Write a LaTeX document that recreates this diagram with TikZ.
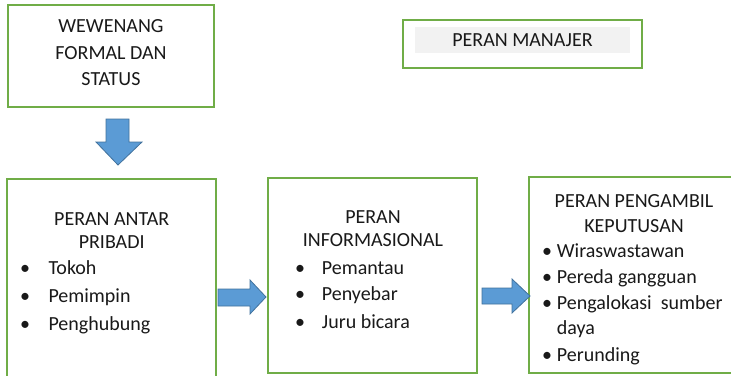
\documentclass[tikz,border=0pt]{standalone}
\usepackage{fontspec}
\setmainfont{Carlito}
\definecolor{boxgreen}{HTML}{70AD47}
\definecolor{arrowfill}{HTML}{5B9BD5}
\definecolor{arrowline}{HTML}{41719C}
\definecolor{bandgrey}{HTML}{F2F2F2}
\begin{document}
\begin{tikzpicture}[x=1pt,y=-1pt,
  box/.style={draw=boxgreen,line width=1.8pt,fill=white,inner sep=0pt,outer sep=0pt},
  band/.style={fill=bandgrey,inner sep=0pt,outer sep=0pt},
  label/.style={inner sep=0pt,anchor=base,font=\fontsize{20}{24}\selectfont,text=black!90},
  item/.style={inner sep=0pt,anchor=base west,font=\fontsize{20}{24}\selectfont,text=black!90},
  dot/.style={inner sep=0pt,anchor=base,font=\fontsize{20}{24}\selectfont,text=black!90},
  blockarrow/.style={fill=arrowfill,draw=arrowline,line width=0.8pt,line join=miter}]
\useasboundingbox (0,0) rectangle (731,375);
\clip (0,0) rectangle (731,375);

% boxes
\node[box,minimum width=206,minimum height=102] (formal) at (111,56) {};
\node[box,minimum width=239,minimum height=48] (manajer) at (522.5,44) {};
\node[band,minimum width=215,minimum height=26] (manband) at (522.5,40) {};
\node[box,minimum width=209,minimum height=221] (antar) at (111.5,289.5) {};
\node[box,minimum width=209,minimum height=195] (info) at (372.5,275.5) {};
\node[box,minimum width=211,minimum height=196] (putus) at (634.5,275) {};

% box titles
\node[label] (f1) at (111,32) {WEWENANG};
\node[label] (f2) at (111,59) {FORMAL DAN};
\node[label] (f3) at (111,85) {STATUS};
\node[label] (m1) at (522.5,46) {PERAN MANAJER};
\node[label] (a1) at (111.7,225) {PERAN ANTAR};
\node[label] (a2) at (111.7,248.3) {PRIBADI};
\node[label] (i1) at (373,223.3) {PERAN};
\node[label] (i2) at (373,246.7) {INFORMASIONAL};
\node[label] (p1) at (634,207.5) {PERAN PENGAMBIL};
\node[label] (p2) at (634,232.5) {KEPUTUSAN};

% interpersonal roles
\node[dot] (ab1) at (25,274) {•};
\node[item] (at1) at (48.3,274) {Tokoh};
\node[dot] (ab2) at (25,302.3) {•};
\node[item] (at2) at (48.3,302.3) {Pemimpin};
\node[dot] (ab3) at (25,330) {•};
\node[item] (at3) at (48.3,330) {Penghubung};

% informational roles
\node[dot] (ib1) at (300,274) {•};
\node[item] (it1) at (321.7,274) {Pemantau};
\node[dot] (ib2) at (300,300.5) {•};
\node[item] (it2) at (321.7,300.5) {Penyebar};
\node[dot] (ib3) at (300,328.3) {•};
\node[item] (it3) at (321.7,328.3) {Juru bicara};

% decisional roles
\node[dot] (pb1) at (547,257.5) {•};
\node[item] (pt1) at (556.7,257.5) {Wiraswastawan};
\node[dot] (pb2) at (547,283.5) {•};
\node[item] (pt2) at (556.7,283.5) {Pereda gangguan};
\node[dot] (pb3) at (547,309) {•};
\node[item] (pt3) at (556.7,309) {Pengalokasi\hspace{0.45em}sumber};
\node[item] (pt3b) at (556.7,334) {daya};
\node[dot] (pb4) at (547,361) {•};
\node[item] (pt4) at (556.7,361) {Perunding};

% block arrows
\draw[blockarrow] (106,119) -- (129,119) -- (129,142) -- (142,142) -- (118,165)
  -- (96,142) -- (106,142) -- cycle;
\draw[blockarrow] (218,289) -- (250,289) -- (250,280) -- (266,297) -- (250,314)
  -- (250,306) -- (218,306) -- cycle;
\draw[blockarrow] (482,288) -- (512,288) -- (512,279) -- (530,296) -- (512,313)
  -- (512,304) -- (482,304) -- cycle;
\end{tikzpicture}
\end{document}
